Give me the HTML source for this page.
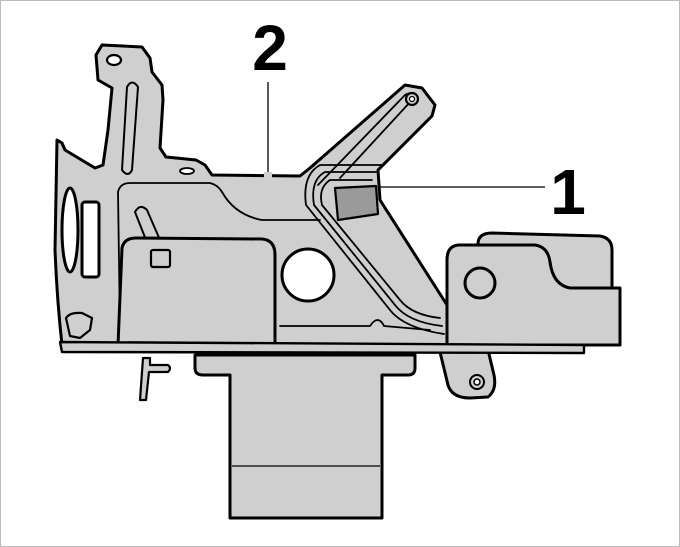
<!DOCTYPE html>
<html><head><style>
html,body{margin:0;padding:0;background:#fff;}
svg{display:block;}
text{font-family:"Liberation Sans",sans-serif;font-weight:bold;}
</style></head><body>
<svg width="680" height="547" viewBox="0 0 680 547" xmlns="http://www.w3.org/2000/svg">
<rect x="0.5" y="0.5" width="679" height="546" fill="#fff" stroke="#bbb"/>
<g stroke="#000" stroke-width="3" stroke-linejoin="round" stroke-linecap="round" fill="#cfcfcf">
<path d="M440,352 L448,385 Q452,398 470,398 L488,397 Q497,390 494,375 L488,350 Z"/>
<circle cx="477" cy="382" r="7" fill="#cfcfcf" stroke-width="2"/>
<circle cx="477" cy="382" r="3" fill="#fff" stroke-width="1.5"/>
<path d="M195,355 L195,368 Q195,375 203,375 L230,375 L230,518 L382,518 L382,375 L408,375 Q415,375 415,368 L415,355 Z"/>
<path d="M143,358 L140,400 L146,400 L149,372 L168,372 Q172,368 168,365 L150,365 L150,358 Z" stroke-width="2.2"/>
<path d="M478,244 Q478,233 492,233 L600,236 Q612,238 612,250 L612,290 L480,290 Z"/>
<path d="M57,140 L62,143 L65,150 L95,168 L103,165 L108,130 L112,88 L98,80 L96,55 L102,45 L142,47 L150,58 L152,72 L162,85 L163,100 L160,148 L166,157 L196,160 L205,165 L212,175 L300,176 L310,168 L405,85 L422,88 L435,105 L432,116 L378,170 L380,200 L447,305 L447,345 L62,345 Q57,300 55,250 Z"/>
<ellipse cx="70" cy="230" rx="8" ry="42" fill="#fff"/>
<rect x="82" y="202" width="17" height="75" rx="3" fill="#fff"/>
<path d="M120,330 L118,192 Q120,183 130,183 L210,183 Q218,185 222,192 Q235,215 262,220 L320,220" fill="none" stroke-width="1.8"/>
<path d="M135,212 Q140,203 147,210 L160,240 L148,245 Z" stroke-width="2"/>
<path d="M127,87 Q132,78 138,87 L132,170 Q128,178 122,170 Z" stroke-width="2"/>
<ellipse cx="114" cy="60" rx="7" ry="5" fill="#fff" stroke-width="2.2"/>
<ellipse cx="187" cy="171" rx="7" ry="3" fill="#fff" stroke-width="1.8"/>
<path d="M318,185 L405,95 Q413,90 412,100 L340,178" fill="none" stroke-width="1.8"/>
<circle cx="412" cy="99" r="6" fill="#cfcfcf" stroke-width="2.2"/>
<circle cx="412" cy="99" r="2.5" fill="#fff" stroke-width="1.2"/>
<path d="M372,180 L330,180 Q318,188 322,205 L400,300 Q412,315 440,318" fill="none" stroke-width="1.8"/>
<path d="M378,172 L325,172 Q310,180 314,205 L395,305 Q408,322 442,326" fill="none" stroke-width="1.8"/>
<path d="M384,165 L320,165 Q302,175 306,205 L390,310 Q404,328 444,334" fill="none" stroke-width="1.8"/>
<path d="M335,188 L376,186 L378,214 L338,220 Z" fill="#9a9a9a" stroke-width="2.2"/>
<circle cx="308" cy="275" r="26" fill="#fff"/>
<path d="M118,345 L122,248 Q124,238 136,238 L262,239 Q275,240 275,255 L275,345 Z"/>
<rect x="151" y="250" width="19" height="17" rx="2" fill="#cfcfcf" stroke-width="2.2"/>
<path d="M66,318 Q70,312 82,313 L92,318 L90,330 L80,338 L70,336 Z" stroke-width="2.2"/>
<path d="M280,326 L370,326 Q378,314 384,326 L430,330" fill="none" stroke-width="1.8"/>
<path d="M447,260 Q447,245 460,245 L535,245 Q548,247 550,262 Q553,285 570,288 L620,288 L620,345 L447,345 Z"/>
<circle cx="480" cy="283" r="15" fill="#cfcfcf"/>
<path d="M60,342 L584,345 L584,353 L62,352 Z" stroke-width="2.4"/>
</g>
<g stroke="#000" stroke-width="1.3" fill="none">
<line x1="232" y1="466" x2="380" y2="466"/>
<line x1="268" y1="82" x2="268" y2="188"/>
<line x1="378" y1="187" x2="545" y2="187"/>
</g>
<rect x="264" y="172" width="8" height="18" fill="#cfcfcf"/>
<text x="270" y="70" font-size="64" text-anchor="middle">2</text>
<text x="568" y="214" font-size="64" text-anchor="middle">1</text>
</svg>
</body></html>
